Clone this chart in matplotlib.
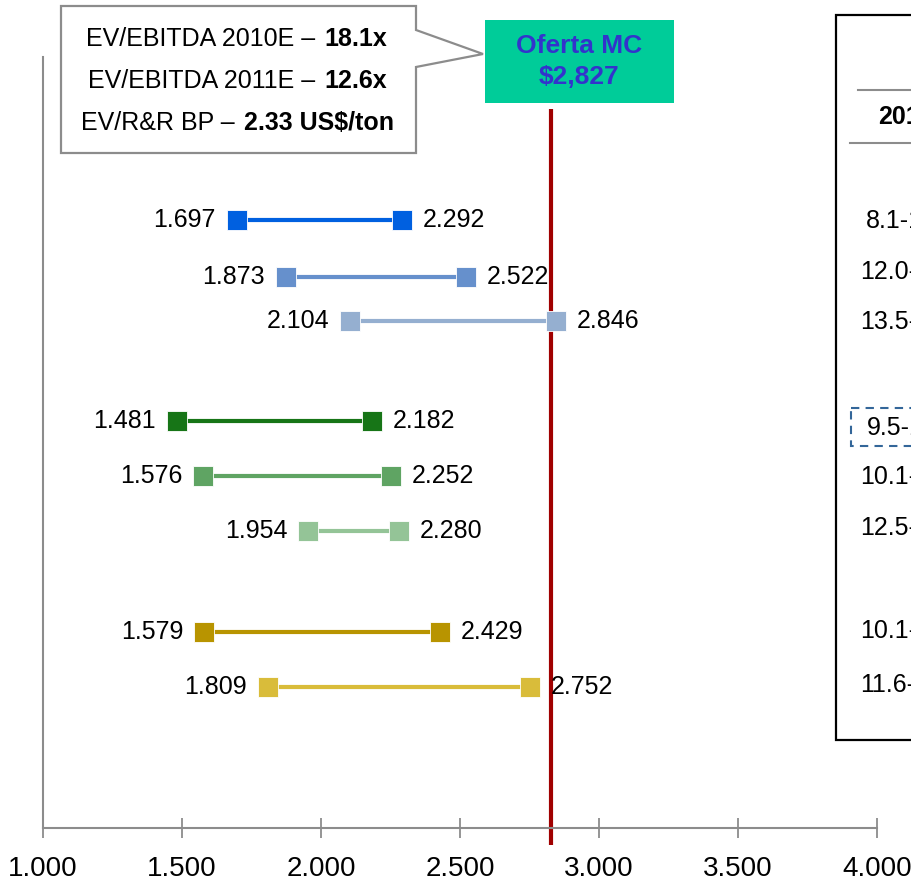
import matplotlib
matplotlib.use("Agg")
import matplotlib.pyplot as plt
from matplotlib.patches import Rectangle, Polygon

plt.rcParams['font.family'] = ['Liberation Sans', 'DejaVu Sans']

# Valuation ranges (US$ millions)
low_values = [1697, 1873, 2104, 1481, 1576, 1954, 1579, 1809]
high_values = [2292, 2522, 2846, 2182, 2252, 2280, 2429, 2752]
range_colors = ['#0060E0', '#6690CC', '#95AFD0',
                '#177517', '#5FA463', '#94C497',
                '#B89400', '#D9BC3A']
offer_value = 2827
offer_labels = ['Oferta MC', '$2,827']

x_ticks = [1000, 1500, 2000, 2500, 3000, 3500, 4000]
x_tick_labels = ['1.000', '1.500', '2.000', '2.500', '3.000', '3.500', '4.000']

multiples_header = '2010E'
multiples_rows = ['8.1-11.0x', '12.0-14.5x', '13.5-16.0x',
                  '9.5-12.0x', '10.1-12.5x', '12.5-15.0x',
                  '10.1-12.5x', '11.6-14.0x']

callout_regular = ['EV/EBITDA 2010E – ', 'EV/EBITDA 2011E – ', 'EV/R&R BP – ']
callout_bold = ['18.1x', '12.6x', '2.33 US$/ton']

def fmt(v):
    return f"{v / 1000:.3f}"

W, H = 912, 881
fig = plt.figure(figsize=(W / 100, H / 100), dpi=100)

# layout helpers (pixel space)
row_y = [220, 277, 321, 421, 476, 531, 632, 687]
ax_left, ax_right, ax_top, ax_bottom = 43, 877, 57, 828

ax = fig.add_axes([ax_left / W, 1 - ax_bottom / H,
                   (ax_right - ax_left) / W, (ax_bottom - ax_top) / H])
ax.set_xlim(1000, 4000)
ax.set_ylim(ax_bottom, ax_top)
for s in ['top', 'right']:
    ax.spines[s].set_visible(False)
for s in ['left', 'bottom']:
    ax.spines[s].set_color('#8C8C8C')
    ax.spines[s].set_linewidth(1.5)
ax.set_yticks([])
ax.set_xticks(x_ticks)
ax.set_xticklabels(x_tick_labels, fontsize=20)
ax.tick_params(axis='x', direction='inout', length=14, width=1.3,
               color='#8C8C8C', pad=13)

# offer line
ax.plot([offer_value, offer_value], [109, 845], color='#A00000',
        lw=3, clip_on=False, zorder=1, solid_capstyle='butt')

for lo, hi, y, c in zip(low_values, high_values, row_y, range_colors):
    ax.plot([lo, hi], [y, y], color=c, lw=3, zorder=2,
            marker='s', markersize=14, markeredgecolor='white',
            markeredgewidth=0.6)
    ax.annotate(fmt(lo), (lo, y), xytext=(-15, 0), textcoords='offset points',
                ha='right', va='center', fontsize=18)
    ax.annotate(fmt(hi), (hi, y), xytext=(15, 0), textcoords='offset points',
                ha='left', va='center', fontsize=18)

# overlay in pixel coordinates for annotation boxes
ov = fig.add_axes([0, 0, 1, 1], facecolor='none')
ov.set_xlim(0, W)
ov.set_ylim(H, 0)
ov.axis('off')

# callout with pointer to the offer box
callout = Polygon([(61, 6), (416, 6), (416, 30), (483, 54), (416, 67),
                   (416, 153), (61, 153)], closed=True,
                  facecolor='white', edgecolor='#8C8C8C', lw=1.6)
ov.add_patch(callout)
split_x = [322, 322, 242]
for i, (reg, bold, sx) in enumerate(zip(callout_regular, callout_bold, split_x)):
    yy = 39 + 42 * i
    ov.text(sx, yy, reg, ha='right', va='center', fontsize=18)
    ov.text(sx + 2, yy, bold, ha='left', va='center', fontsize=18,
            fontweight='bold')

# offer box
ov.add_patch(Rectangle((485, 20), 189, 83, facecolor='#00CC99',
                       edgecolor='none'))
ov.text(579, 46, offer_labels[0], ha='center', va='center', fontsize=19,
        fontweight='bold', color='#3333CC')
ov.text(579, 77, offer_labels[1], ha='center', va='center', fontsize=19,
        fontweight='bold', color='#3333CC')

# multiples panel on the right
ov.add_patch(Rectangle((836, 15), 120, 725, facecolor='white',
                       edgecolor='black', lw=1.6, clip_on=False))
ov.plot([858, 960], [90, 90], color='#8C8C8C', lw=1.5)
ov.plot([850, 960], [143, 143], color='#8C8C8C', lw=1.5)
ov.text(878, 117, multiples_header, ha='left', va='center', fontsize=18,
        fontweight='bold')
ov.add_patch(Rectangle((851, 408), 120, 38, facecolor='none',
                       edgecolor='#336699', lw=1.5, linestyle=(0, (4, 3))))
panel_y = [221, 272, 322, 428, 477, 528, 631, 685]
panel_x = [866, 860, 860, 867, 860, 860, 860, 860]
for txt, px, py in zip(multiples_rows, panel_x, panel_y):
    ov.text(px, py, txt, ha='left', va='center', fontsize=18)

fig.savefig('out.png', dpi=100)
